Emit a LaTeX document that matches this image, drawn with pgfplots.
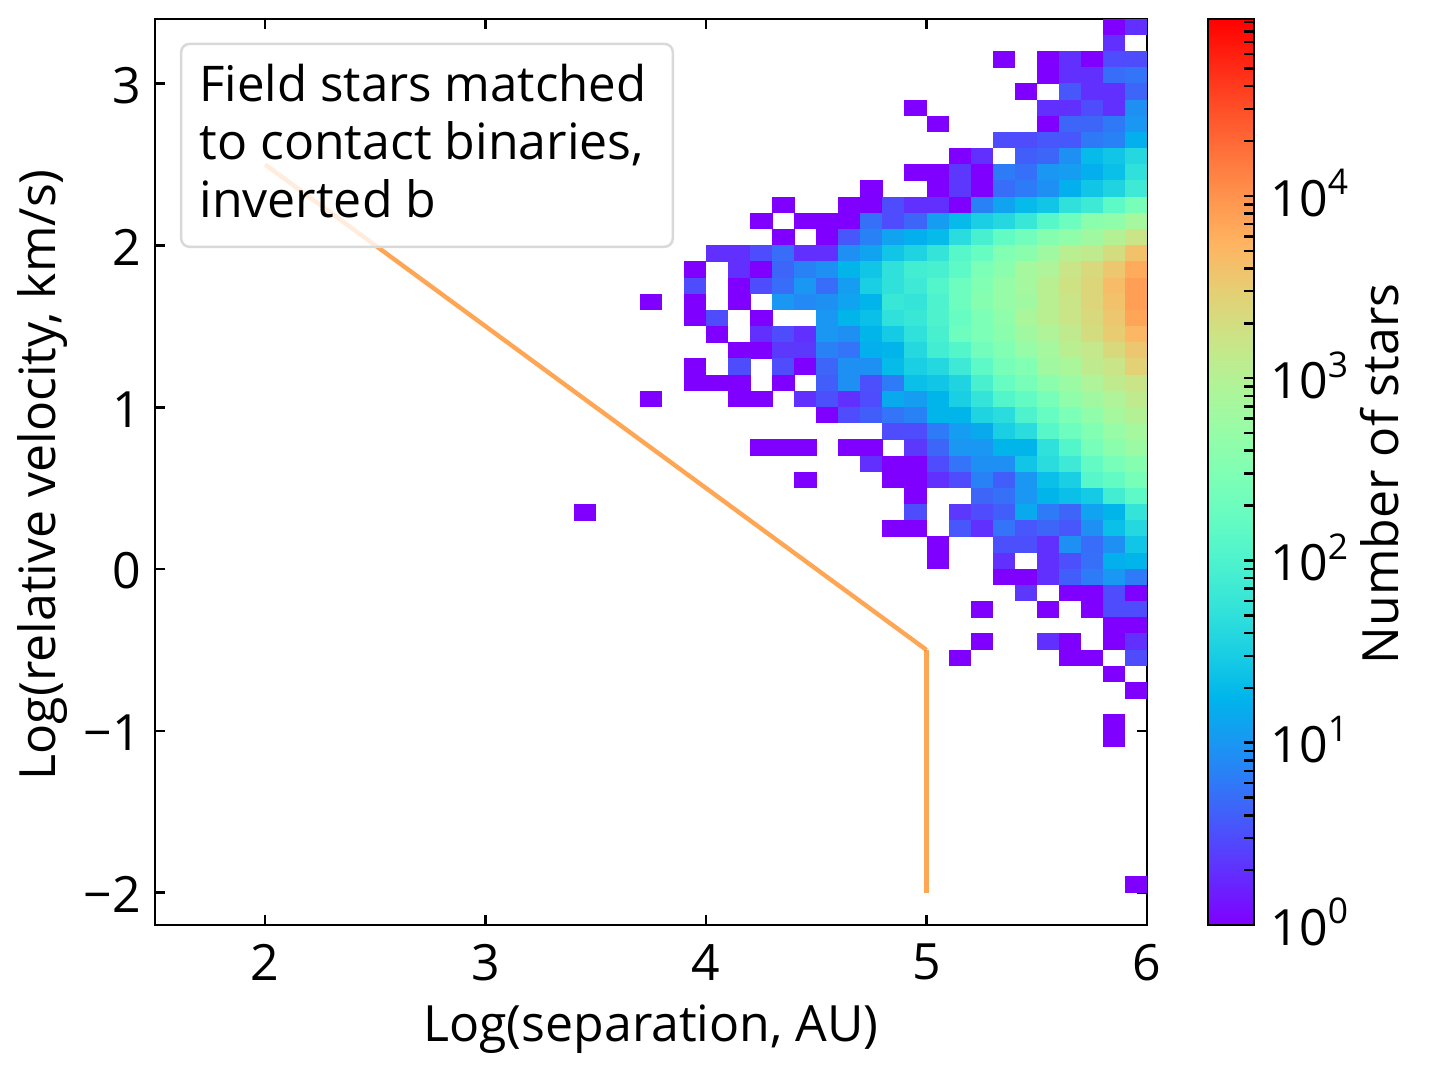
\documentclass[border=0pt]{standalone}
\usepackage{fontspec}
\setmainfont{Open Sans}
\usepackage{pgfplots}
\pgfplotsset{compat=1.18}
\pgfdeclareplotmark{cell}{\pgfpathrectangle{\pgfpointorigin}{\pgfpoint{5.37pt}{3.96pt}}\pgfusepathqfill}
\pgfplotsset{colormap={mplrainbow}{rgb=(.5,0,1) rgb=(.4,.156,.997) rgb=(.3,.309,.988) rgb=(.2,.454,.972) rgb=(.1,.588,.951) rgb=(0,.707,.924) rgb=(.1,.809,.891) rgb=(.2,.891,.853) rgb=(.3,.951,.809) rgb=(.4,.988,.760) rgb=(.5,1,.707) rgb=(.6,.988,.649) rgb=(.7,.951,.588) rgb=(.8,.891,.522) rgb=(.9,.809,.454) rgb=(1,.707,.383) rgb=(1,.588,.309) rgb=(1,.454,.233) rgb=(1,.309,.156) rgb=(1,.156,.078) rgb=(1,0,0)}}
\definecolor{legedge}{HTML}{D9D9D9}
\definecolor{cutline}{rgb}{1,.5,.05}
\begin{document}
\begin{tikzpicture}[font=\fontsize{12}{14}\selectfont]
\path[use as bounding box] (0,0) rectangle (343.2pt,257.28pt);
\begin{axis}[
  at={(37.2pt,35.28pt)},anchor=south west,scale only axis,
  width=238.08pt,height=217.44pt,
  xmin=1.5,xmax=6,ymin=-2.2,ymax=3.4,
  colormap name=mplrainbow,point meta min=0,point meta max=4.971,
  axis line style={line width=.6pt},
  tick style={line width=.6pt,black},
  tick align=inside,xtick pos=both,ytick pos=both,
  major tick length=2.5pt,
  xtick={2,3,4,5,6},xticklabels={2,3,4,5,6},
  ytick={-2,-1,0,1,2,3},yticklabels={−2,−1,0,1,2,3},
  xticklabel pos=bottom,yticklabel pos=left,
  every axis y label/.style={at={(axis description cs:-0.113,0.497)},anchor=center,rotate=90},
  every axis x label/.style={at={(axis description cs:0.5,-0.115)},anchor=center},
  xlabel={Log(separation, AU)},
  ylabel={Log(relative velocity, km/s)},
  tick label style={font=\fontsize{12}{14}\selectfont},
  xticklabel style={yshift=-1.1pt},
  yticklabel style={xshift=.2pt,yshift=-.45pt},
]
\addplot[scatter,only marks,mark=cell,scatter src=explicit,
  scatter/use mapped color={fill=mapped color,draw=none}]
  table[row sep=\\,x=x,y=y,meta=c]{
x y c\\
5.8 3.3 0\\ 5.9 3.3 .3\\
5.8 3.2 .3\\
5.3 3.1 0\\ 5.5 3.1 0\\ 5.6 3.1 .3\\ 5.7 3.1 0\\ 5.8 3.1 .48\\ 5.9 3.1 .48\\
5.5 3.0 0\\ 5.6 3.0 .3\\ 5.7 3.0 .3\\ 5.8 3.0 .7\\ 5.9 3.0 .75\\
5.4 2.9 0\\ 5.6 2.9 .55\\ 5.7 2.9 .3\\ 5.8 2.9 .3\\ 5.9 2.9 .65\\
4.9 2.8 0\\ 5.5 2.8 .3\\ 5.6 2.8 .3\\ 5.7 2.8 .48\\ 5.8 2.8 .3\\ 5.9 2.8 .95\\
5.0 2.7 0\\ 5.5 2.7 0\\ 5.6 2.7 .65\\ 5.7 2.7 .65\\ 5.8 2.7 .78\\ 5.9 2.7 1.0\\
5.3 2.6 .48\\ 5.4 2.6 .48\\ 5.5 2.6 .55\\ 5.6 2.6 .55\\ 5.7 2.6 .78\\ 5.8 2.6 .85\\ 5.9 2.6 1.2\\
5.1 2.5 0\\ 5.2 2.5 .3\\ 5.4 2.5 .6\\ 5.5 2.5 .65\\ 5.6 2.5 .95\\ 5.7 2.5 1.3\\ 5.8 2.5 1.4\\ 5.9 2.5 1.6\\
4.9 2.4 0\\ 5.0 2.4 0\\ 5.1 2.4 .35\\ 5.2 2.4 0\\ 5.3 2.4 .8\\ 5.4 2.4 .72\\ 5.5 2.4 1.0\\ 5.6 2.4 1.05\\ 5.7 2.4 1.2\\ 5.8 2.4 1.35\\ 5.9 2.4 1.7\\
4.7 2.3 0\\ 5.0 2.3 0\\ 5.1 2.3 .35\\ 5.2 2.3 0\\ 5.3 2.3 .7\\ 5.4 2.3 .8\\ 5.5 2.3 .95\\ 5.6 2.3 1.2\\ 5.7 2.3 1.4\\ 5.8 2.3 1.55\\ 5.9 2.3 1.85\\
4.3 2.2 0\\ 4.6 2.2 0\\ 4.7 2.2 0\\ 4.8 2.2 .48\\ 4.9 2.2 .3\\ 5.0 2.2 .3\\ 5.1 2.2 0\\ 5.2 2.2 .85\\ 5.3 2.2 1.1\\ 5.4 2.2 1.3\\ 5.5 2.2 1.4\\ 5.6 2.2 1.7\\ 5.7 2.2 1.85\\ 5.8 2.2 2.15\\ 5.9 2.2 2.4\\
4.2 2.1 0\\ 4.4 2.1 0\\ 4.5 2.1 0\\ 4.6 2.1 0\\ 4.7 2.1 .72\\ 4.8 2.1 .48\\ 4.9 2.1 .65\\ 5.0 2.1 1.05\\ 5.1 2.1 1.3\\ 5.2 2.1 1.5\\ 5.3 2.1 1.6\\ 5.4 2.1 1.8\\ 5.5 2.1 2.1\\ 5.6 2.1 2.3\\ 5.7 2.1 2.6\\ 5.8 2.1 2.65\\ 5.9 2.1 2.85\\
4.3 2.0 0\\ 4.5 2.0 0\\ 4.6 2.0 .55\\ 4.7 2.0 .85\\ 4.8 2.0 1.1\\ 4.9 2.0 1.2\\ 5.0 2.0 1.3\\ 5.1 2.0 1.65\\ 5.2 2.0 1.95\\ 5.3 2.0 2.2\\ 5.4 2.0 2.35\\ 5.5 2.0 2.55\\ 5.6 2.0 2.65\\ 5.7 2.0 2.8\\ 5.8 2.0 3.0\\ 5.9 2.0 3.2\\
4.0 1.9 .3\\ 4.1 1.9 .3\\ 4.2 1.9 .48\\ 4.3 1.9 .7\\ 4.4 1.9 .3\\ 4.5 1.9 .3\\ 4.6 1.9 .95\\ 4.7 1.9 1.1\\ 4.8 1.9 1.4\\ 4.9 1.9 1.55\\ 5.0 1.9 1.75\\ 5.1 1.9 2.1\\ 5.2 1.9 2.25\\ 5.3 1.9 2.5\\ 5.4 1.9 2.6\\ 5.5 1.9 2.8\\ 5.6 1.9 3.05\\ 5.7 1.9 3.1\\ 5.8 1.9 3.3\\ 5.9 1.9 3.6\\
3.9 1.8 0\\ 4.1 1.8 .3\\ 4.2 1.8 0\\ 4.3 1.8 .65\\ 4.4 1.8 .85\\ 4.5 1.8 .95\\ 4.6 1.8 1.25\\ 4.7 1.8 1.4\\ 4.8 1.8 1.7\\ 4.9 1.8 1.9\\ 5.0 1.8 1.95\\ 5.1 1.8 2.15\\ 5.2 1.8 2.45\\ 5.3 1.8 2.6\\ 5.4 1.8 2.85\\ 5.5 1.8 2.95\\ 5.6 1.8 3.2\\ 5.7 1.8 3.35\\ 5.8 1.8 3.55\\ 5.9 1.8 3.8\\
3.9 1.7 .48\\ 4.1 1.7 0\\ 4.2 1.7 .48\\ 4.3 1.7 .7\\ 4.4 1.7 1.0\\ 4.5 1.7 .7\\ 4.6 1.7 1.05\\ 4.7 1.7 1.5\\ 4.8 1.7 1.7\\ 4.9 1.7 1.85\\ 5.0 1.7 2.05\\ 5.1 1.7 2.3\\ 5.2 1.7 2.5\\ 5.3 1.7 2.7\\ 5.4 1.7 2.85\\ 5.5 1.7 3.05\\ 5.6 1.7 3.25\\ 5.7 1.7 3.4\\ 5.8 1.7 3.65\\ 5.9 1.7 3.9\\
3.7 1.6 0\\ 3.9 1.6 0\\ 4.1 1.6 0\\ 4.3 1.6 1.0\\ 4.4 1.6 .9\\ 4.5 1.6 .95\\ 4.6 1.6 1.1\\ 4.7 1.6 1.25\\ 4.8 1.6 1.8\\ 4.9 1.6 1.75\\ 5.0 1.6 2.0\\ 5.1 1.6 2.3\\ 5.2 1.6 2.55\\ 5.3 1.6 2.7\\ 5.4 1.6 2.8\\ 5.5 1.6 3.05\\ 5.6 1.6 3.2\\ 5.7 1.6 3.4\\ 5.8 1.6 3.6\\ 5.9 1.6 3.9\\
3.9 1.5 0\\ 4.0 1.5 .48\\ 4.2 1.5 0\\ 4.5 1.5 1.0\\ 4.6 1.5 1.25\\ 4.7 1.5 1.35\\ 4.8 1.5 1.7\\ 4.9 1.5 1.8\\ 5.0 1.5 2.0\\ 5.1 1.5 2.25\\ 5.2 1.5 2.45\\ 5.3 1.5 2.65\\ 5.4 1.5 2.9\\ 5.5 1.5 3.05\\ 5.6 1.5 3.2\\ 5.7 1.5 3.35\\ 5.8 1.5 3.55\\ 5.9 1.5 3.85\\
4.0 1.4 0\\ 4.2 1.4 .3\\ 4.3 1.4 .48\\ 4.4 1.4 .3\\ 4.5 1.4 1.0\\ 4.6 1.4 .95\\ 4.7 1.4 1.25\\ 4.8 1.4 1.45\\ 4.9 1.4 1.7\\ 5.0 1.4 1.95\\ 5.1 1.4 2.3\\ 5.2 1.4 2.45\\ 5.3 1.4 2.6\\ 5.4 1.4 2.8\\ 5.5 1.4 2.95\\ 5.6 1.4 3.1\\ 5.7 1.4 3.3\\ 5.8 1.4 3.5\\ 5.9 1.4 3.7\\
4.1 1.3 0\\ 4.2 1.3 0\\ 4.3 1.3 .35\\ 4.4 1.3 .35\\ 4.5 1.3 .85\\ 4.6 1.3 .75\\ 4.7 1.3 1.2\\ 4.8 1.3 1.25\\ 4.9 1.3 1.6\\ 5.0 1.3 1.9\\ 5.1 1.3 2.05\\ 5.2 1.3 2.35\\ 5.3 1.3 2.5\\ 5.4 1.3 2.7\\ 5.5 1.3 2.85\\ 5.6 1.3 3.05\\ 5.7 1.3 3.15\\ 5.8 1.3 3.35\\ 5.9 1.3 3.55\\
3.9 1.2 0\\ 4.1 1.2 .48\\ 4.3 1.2 .48\\ 4.4 1.2 0\\ 4.5 1.2 .65\\ 4.6 1.2 .95\\ 4.7 1.2 .95\\ 4.8 1.2 1.3\\ 4.9 1.2 1.5\\ 5.0 1.2 1.6\\ 5.1 1.2 1.85\\ 5.2 1.2 2.15\\ 5.3 1.2 2.4\\ 5.4 1.2 2.5\\ 5.5 1.2 2.8\\ 5.6 1.2 2.9\\ 5.7 1.2 3.1\\ 5.8 1.2 3.2\\ 5.9 1.2 3.45\\
3.9 1.1 0\\ 4.0 1.1 0\\ 4.1 1.1 0\\ 4.3 1.1 0\\ 4.5 1.1 .6\\ 4.6 1.1 .95\\ 4.7 1.1 .5\\ 4.8 1.1 .8\\ 4.9 1.1 1.35\\ 5.0 1.1 1.4\\ 5.1 1.1 1.55\\ 5.2 1.1 1.95\\ 5.3 1.1 2.25\\ 5.4 1.1 2.4\\ 5.5 1.1 2.6\\ 5.6 1.1 2.75\\ 5.7 1.1 2.95\\ 5.8 1.1 3.1\\ 5.9 1.1 3.2\\
3.7 1.0 0\\ 4.1 1.0 0\\ 4.2 1.0 0\\ 4.4 1.0 .3\\ 4.5 1.0 .5\\ 4.6 1.0 .3\\ 4.7 1.0 .48\\ 4.8 1.0 1.15\\ 4.9 1.0 1.05\\ 5.0 1.0 1.25\\ 5.1 1.0 1.5\\ 5.2 1.0 1.75\\ 5.3 1.0 2.05\\ 5.4 1.0 2.2\\ 5.5 1.0 2.4\\ 5.6 1.0 2.65\\ 5.7 1.0 2.8\\ 5.8 1.0 2.95\\ 5.9 1.0 3.1\\
4.5 .9 0\\ 4.6 .9 .48\\ 4.7 .9 .6\\ 4.8 .9 .75\\ 4.9 .9 .85\\ 5.0 .9 1.25\\ 5.1 .9 1.25\\ 5.2 .9 1.55\\ 5.3 .9 1.65\\ 5.4 .9 2.0\\ 5.5 .9 2.25\\ 5.6 .9 2.45\\ 5.7 .9 2.65\\ 5.8 .9 2.85\\ 5.9 .9 3.0\\
4.8 .8 .48\\ 4.9 .8 .48\\ 5.0 .8 .8\\ 5.1 .8 1.05\\ 5.2 .8 1.15\\ 5.3 .8 1.5\\ 5.4 .8 1.65\\ 5.5 .8 2.1\\ 5.6 .8 2.3\\ 5.7 .8 2.5\\ 5.8 .8 2.7\\ 5.9 .8 2.85\\
4.2 .7 0\\ 4.3 .7 0\\ 4.4 .7 0\\ 4.6 .7 0\\ 4.7 .7 0\\ 4.9 .7 .35\\ 5.0 .7 .65\\ 5.1 .7 1.0\\ 5.2 .7 1.0\\ 5.3 .7 1.25\\ 5.4 .7 1.25\\ 5.5 .7 1.7\\ 5.6 .7 2.05\\ 5.7 .7 2.4\\ 5.8 .7 2.6\\ 5.9 .7 2.75\\
4.7 .6 .3\\ 4.8 .6 0\\ 4.9 .6 0\\ 5.0 .6 .48\\ 5.1 .6 .75\\ 5.2 .6 .95\\ 5.3 .6 .95\\ 5.4 .6 1.4\\ 5.5 .6 1.65\\ 5.6 .6 1.85\\ 5.7 .6 2.2\\ 5.8 .6 2.4\\ 5.9 .6 2.55\\
4.4 .5 0\\ 4.8 .5 0\\ 4.9 .5 0\\ 5.0 .5 .3\\ 5.1 .5 .48\\ 5.2 .5 .85\\ 5.3 .5 .6\\ 5.4 .5 1.0\\ 5.5 .5 1.35\\ 5.6 .5 1.5\\ 5.7 .5 2.1\\ 5.8 .5 2.2\\ 5.9 .5 2.4\\
4.9 .4 0\\ 5.2 .4 .65\\ 5.3 .4 .72\\ 5.4 .4 1.0\\ 5.5 .4 1.25\\ 5.6 .4 1.35\\ 5.7 .4 1.45\\ 5.8 .4 1.9\\ 5.9 .4 2.15\\
3.4 .3 0\\ 4.9 .3 .48\\ 5.1 .3 .35\\ 5.2 .3 .48\\ 5.3 .3 .6\\ 5.4 .3 1.15\\ 5.5 .3 .8\\ 5.6 .3 .65\\ 5.7 .3 1.1\\ 5.8 .3 1.25\\ 5.9 .3 1.75\\
4.8 .2 0\\ 4.9 .2 0\\ 5.1 .2 .55\\ 5.2 .2 .3\\ 5.3 .2 .75\\ 5.4 .2 .55\\ 5.5 .2 .65\\ 5.6 .2 .55\\ 5.7 .2 .95\\ 5.8 .2 1.35\\ 5.9 .2 1.6\\
5.0 .1 0\\ 5.3 .1 .5\\ 5.4 .1 .5\\ 5.5 .1 .3\\ 5.6 .1 .95\\ 5.7 .1 .7\\ 5.8 .1 .95\\ 5.9 .1 1.4\\
5.0 0 0\\ 5.3 0 .3\\ 5.5 0 .3\\ 5.6 0 .5\\ 5.7 0 .72\\ 5.8 0 1.2\\ 5.9 0 1.25\\
5.3 -.1 0\\ 5.4 -.1 0\\ 5.5 -.1 .3\\ 5.6 -.1 .6\\ 5.7 -.1 .8\\ 5.8 -.1 1.0\\ 5.9 -.1 .8\\
5.4 -.2 .35\\ 5.6 -.2 0\\ 5.7 -.2 0\\ 5.8 -.2 .48\\ 5.9 -.2 0\\
5.2 -.3 0\\ 5.5 -.3 0\\ 5.7 -.3 0\\ 5.8 -.3 .48\\ 5.9 -.3 .48\\
5.8 -.4 0\\ 5.9 -.4 0\\
5.2 -.5 0\\ 5.5 -.5 .3\\ 5.6 -.5 0\\ 5.8 -.5 0\\ 5.9 -.5 .3\\
5.1 -.6 0\\ 5.6 -.6 0\\ 5.7 -.6 0\\ 5.9 -.6 .48\\
5.8 -.7 0\\
5.9 -.8 0\\
5.8 -1.0 0\\
5.8 -1.1 0\\
5.9 -2.0 0\\
};
\addplot[cutline,opacity=.7,line width=1.05pt] coordinates {(2,2.5) (5,-.5)};
\addplot[cutline,opacity=.7,line width=1.05pt] coordinates {(5,-.5) (5,-2)};
\node[anchor=north west,draw=legedge,line width=.6pt,fill=white,fill opacity=.8,
  rounded corners=2pt,minimum width=118pt,minimum height=48.7pt,inner sep=0pt]
  at (axis cs:1.613,3.254) {};
\node[anchor=north west,inner sep=0pt,align=left,xshift=4.5pt,yshift=-4.9pt]
  at (axis cs:1.613,3.254) {\fontsize{11.8}{13.7}\selectfont Field stars matched\\to contact binaries,\\inverted b};
\end{axis}
\begin{axis}[
  at={(289.92pt,35.28pt)},anchor=south west,scale only axis,
  width=11.04pt,height=217.44pt,
  xmin=0,xmax=1,ymode=log,ymin=1,ymax=93500,
  colormap name=mplrainbow,point meta min=0,point meta max=4.971,
  axis line style={line width=.6pt},
  tick style={line width=.6pt,black},
  tick align=inside,xtick=\empty,
  ytick pos=right,yticklabel pos=right,
  major tick length=2.3pt,minor tick length=2.3pt,
  ytick={1,10,100,1000,10000},
  yticklabels={10\raisebox{.8ex}{\fontsize{8.5}{9}\selectfont 0},10\raisebox{.8ex}{\fontsize{8.5}{9}\selectfont 1},10\raisebox{.8ex}{\fontsize{8.5}{9}\selectfont 2},10\raisebox{.8ex}{\fontsize{8.5}{9}\selectfont 3},10\raisebox{.8ex}{\fontsize{8.5}{9}\selectfont 4}},
  minor ytick={2,3,4,5,6,7,8,9,20,30,40,50,60,70,80,90,200,300,400,500,600,700,800,900,2000,3000,4000,5000,6000,7000,8000,9000,20000,30000,40000,50000,60000,70000,80000,90000},
  every axis y label/.style={at={(axis description cs:3.74,0.498)},anchor=center,rotate=90},
  ylabel={Number of stars},
  tick label style={font=\fontsize{12}{14}\selectfont},
  yticklabel style={xshift=.5pt,yshift=.7pt},
  axis on top,
]
\addplot[surf,shader=interp,mesh/cols=2,point meta=explicit] table[x=x,y=y,meta=c]{
x y c
0 1 0
1 1 0
0 1.7725 .2486
1 1.7725 .2486
0 3.142 .4971
1 3.142 .4971
0 5.57 .7457
1 5.57 .7457
0 9.87 .9942
1 9.87 .9942
0 17.5 1.2428
1 17.5 1.2428
0 31.0 1.4913
1 31.0 1.4913
0 55.0 1.7399
1 55.0 1.7399
0 97.5 1.9884
1 97.5 1.9884
0 172.8 2.2370
1 172.8 2.2370
0 306.3 2.4855
1 306.3 2.4855
0 543 2.7341
1 543 2.7341
0 962.4 2.9826
1 962.4 2.9826
0 1706 3.2312
1 1706 3.2312
0 3024 3.4797
1 3024 3.4797
0 5360 3.7283
1 5360 3.7283
0 9500 3.9768
1 9500 3.9768
0 16840 4.2254
1 16840 4.2254
0 29850 4.4739
1 29850 4.4739
0 52900 4.7225
1 52900 4.7225
0 93500 4.971
1 93500 4.971
};
\end{axis}
\end{tikzpicture}
\end{document}
